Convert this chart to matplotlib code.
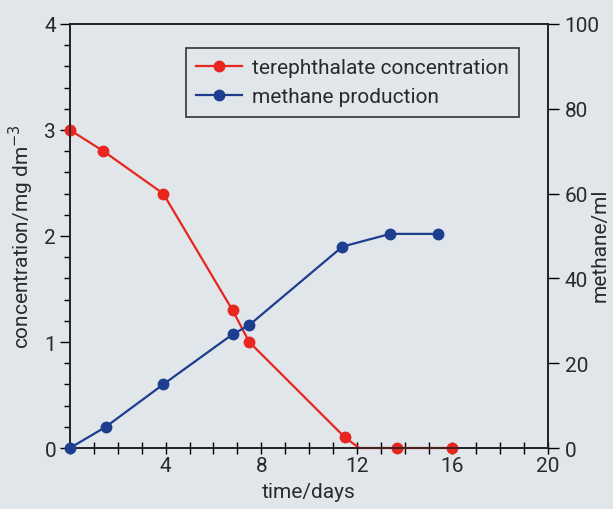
import numpy as np
import matplotlib
matplotlib.use("Agg")
from matplotlib import pyplot as plt
from matplotlib.ticker import MultipleLocator

plt.rcParams['font.family'] = ['Roboto', 'DejaVu Sans']

# terephthalate concentration (mg dm^-3), left axis
tere_days = [0, 1.4, 3.9, 6.8, 7.5, 11.5, 12.1, 13.7, 16.0]
tere_conc = [3.0, 2.8, 2.4, 1.3, 1.0, 0.1, 0.0, 0.0, 0.0]
tere_marked = [0, 1, 2, 3, 4, 5, 7, 8]   # kink at 12.1 has no dot

# methane production (ml), right axis
meth_days = [0, 1.5, 3.9, 6.8, 7.5, 11.4, 13.4, 15.4]
meth_ml = [0, 5.0, 15.0, 26.8, 29.0, 47.5, 50.5, 50.5]

x_ticks = [4, 8, 12, 16, 20]
left_ticks = [0, 1, 2, 3, 4]
right_ticks = [0, 20, 40, 60, 80, 100]

bg = '#e0e6ea'
red = '#e8251e'
blue = '#1d3d8f'
txt = '#2a2a2a'

fig = plt.figure(figsize=(6.13, 5.10), dpi=100, facecolor=bg)
ax = fig.add_axes([0.1142, 0.1196, 0.7798, 0.8314])
ax.set_facecolor(bg)
ax2 = ax.twinx()

l1, = ax.plot(tere_days, tere_conc, color=red, lw=1.6, marker='o', ms=7.5,
              markevery=tere_marked, label='terephthalate concentration',
              clip_on=False, zorder=3)
l2, = ax2.plot(meth_days, meth_ml, color=blue, lw=1.6, marker='o', ms=7.5,
               label='methane production', clip_on=False, zorder=3)

ax.set_xlim(0, 20)
ax.set_ylim(0, 4)
ax2.set_ylim(0, 100)

ax.set_xticks(x_ticks)
ax.xaxis.set_minor_locator(MultipleLocator(1))
ax.set_yticks(left_ticks)
ax.yaxis.set_minor_locator(MultipleLocator(0.2))
ax2.set_yticks(right_ticks)

ax.tick_params(axis='x', which='both', direction='inout', length=8, width=1,
               labelsize=15, pad=2, labelcolor=txt)
ax.tick_params(axis='y', which='major', direction='out', length=7, width=1,
               labelsize=15, pad=3, labelcolor=txt)
ax.tick_params(axis='y', which='minor', direction='out', length=4, width=1)
ax2.tick_params(axis='y', direction='out', length=8, width=1, labelsize=15,
                pad=4, labelcolor=txt)

for a in (ax, ax2):
    for s in a.spines.values():
        s.set_linewidth(1.2)
        s.set_color('#222222')

ax.set_xlabel('time/days', fontsize=15, labelpad=5, color=txt)
ax.set_ylabel('concentration/mg dm$^{-3}$', fontsize=15, labelpad=6, color=txt)
fig.text(0.979, 0.52, 'methane/ml', rotation=90, fontsize=15,
         ha='center', va='center', color=txt)

leg = ax2.legend(handles=[l1, l2], loc='upper right',
                 bbox_to_anchor=(0.962, 0.969), fontsize=15, frameon=True,
                 fancybox=False, edgecolor='#333333', facecolor=bg,
                 framealpha=1, handlelength=2.2, borderpad=0.5,
                 labelspacing=0.5, handletextpad=0.5)
leg.get_frame().set_linewidth(1.2)
for t in leg.get_texts():
    t.set_color(txt)

fig.savefig('out.png', dpi=100, facecolor=bg)
